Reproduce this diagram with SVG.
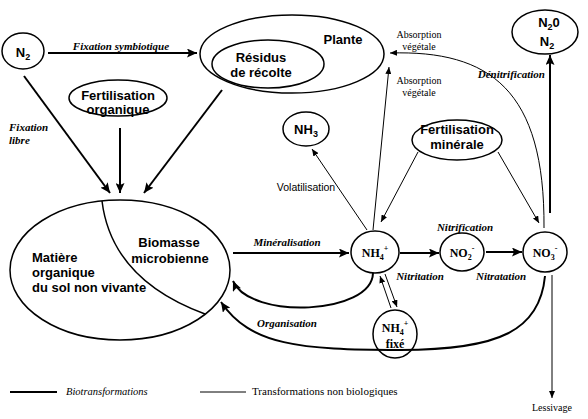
<svg xmlns="http://www.w3.org/2000/svg" width="588" height="419" viewBox="0 0 588 419">
<defs>
<marker id="ah" markerUnits="userSpaceOnUse" markerWidth="11" markerHeight="9" refX="10" refY="4.5" orient="auto-start-reverse"><path d="M0,0 L10,4.5 L0,9 L2,4.5 z" fill="#000"/></marker>
<marker id="as" markerUnits="userSpaceOnUse" markerWidth="8" markerHeight="6" refX="7" refY="3" orient="auto-start-reverse"><path d="M0,0 L7,3 L0,6 z" fill="#000"/></marker>
</defs>
<style>
.n{fill:none;stroke:#000;stroke-width:1.5}
.b{font-family:"Liberation Sans",Arial,sans-serif;font-weight:bold;font-size:13px;text-anchor:middle}
.bs{font-family:"Liberation Serif","Times New Roman",serif;font-weight:bold;font-size:12px;text-anchor:middle}
.bi{font-family:"Liberation Serif","Times New Roman",serif;font-weight:bold;font-style:italic;font-size:11px;text-anchor:middle}
.r{font-family:"Liberation Serif","Times New Roman",serif;font-size:10px;text-anchor:middle}
.th{fill:none;stroke:#000;stroke-width:2;marker-end:url(#ah)}
.tn{fill:none;stroke:#000;stroke-width:1;marker-end:url(#as)}
</style>
<rect width="588" height="419" fill="#fff"/>
<g id="n2"><ellipse class="n" cx="23" cy="51" rx="21" ry="18"/><text class="b" x="23" y="57">N<tspan font-size="9" dy="3">2</tspan></text></g>
<g id="plante"><ellipse class="n" cx="292" cy="54" rx="92" ry="39"/><text class="b" x="343" y="44">Plante</text></g>
<g id="residus"><ellipse class="n" cx="268" cy="64" rx="56" ry="24"/><text class="b" x="261" y="62">Résidus</text><text class="b" x="261" y="77">de récolte</text></g>
<g id="fert-org"><ellipse class="n" cx="118" cy="98" rx="49" ry="18"/><text class="b" x="118" y="100">Fertilisation</text><text class="b" x="118" y="114">organique</text></g>
<g id="sol"><ellipse class="n" cx="120" cy="270" rx="110" ry="70"/><path class="n" d="M102,201 C108,250 140,290 205,314"/>
<text class="b" x="32" y="262" style="text-anchor:start">Matière</text><text class="b" x="32" y="277" style="text-anchor:start">organique</text><text class="b" x="32" y="292" style="text-anchor:start">du sol non vivante</text>
<text class="b" x="169" y="247">Biomasse</text><text class="b" x="170" y="263">microbienne</text></g>
<g id="nh3"><ellipse class="n" cx="306" cy="129" rx="23" ry="17"/><text class="b" x="306" y="134">NH<tspan font-size="9" dy="3">3</tspan></text></g>
<g id="fert-min"><ellipse class="n" cx="457" cy="140" rx="45" ry="20"/><text class="b" x="457" y="134">Fertilisation</text><text class="b" x="457" y="149">minérale</text></g>
<g id="n2o"><ellipse class="n" cx="545" cy="32" rx="33" ry="22"/><text class="b" x="549" y="27">N<tspan font-size="9" dy="3">2</tspan><tspan dy="-3">0</tspan></text><text class="b" x="547" y="46">N<tspan font-size="9" dy="3">2</tspan></text></g>
<g id="nh4"><ellipse class="n" cx="375" cy="252" rx="24" ry="21"/><text class="bs" x="375" y="257">NH<tspan font-size="8" dy="3">4</tspan><tspan font-size="8" dy="-9">+</tspan></text></g>
<g id="no2"><ellipse class="n" cx="462" cy="252" rx="22" ry="19"/><text class="bs" x="462" y="257">NO<tspan font-size="8" dy="3">2</tspan><tspan font-size="8" dy="-9">-</tspan></text></g>
<g id="no3"><ellipse class="n" cx="545" cy="252" rx="22" ry="20"/><text class="bs" x="545" y="257">NO<tspan font-size="8" dy="3">3</tspan><tspan font-size="8" dy="-9">-</tspan></text></g>
<g id="nh4fixe"><ellipse class="n" cx="395" cy="334" rx="22" ry="24"/><text class="bs" x="395" y="332">NH<tspan font-size="8" dy="3">4</tspan><tspan font-size="8" dy="-9">+</tspan></text><text class="bs" x="395" y="348">fixé</text></g>
<g id="connectors">
<line class="th" x1="48" y1="53" x2="197" y2="53"/>
<line class="th" x1="24" y1="76" x2="110" y2="193"/>
<line class="th" x1="120" y1="128" x2="120" y2="193"/>
<line class="th" x1="222" y1="90" x2="144" y2="193"/>
<line class="th" x1="233" y1="253" x2="349" y2="253"/>
<line class="th" x1="400" y1="253" x2="439" y2="253"/>
<line class="th" x1="486" y1="252" x2="522" y2="252"/>
<line class="th" x1="550" y1="213" x2="550" y2="55"/>
<path class="tn" d="M544,228 C545,90 490,50 390,53"/>
<line class="tn" x1="373" y1="230" x2="389" y2="67"/>
<line class="tn" x1="367" y1="230" x2="312" y2="149"/>
<line class="tn" x1="418" y1="152" x2="381" y2="222"/>
<line class="tn" x1="498" y1="152" x2="539" y2="223"/>
<path class="th" d="M373,273 C372,315 250,320 233,281"/>
<path class="th" d="M545,276 C540,330 500,350 400,350 C300,350 250,345 221,302"/>
<line class="tn" x1="391" y1="308" x2="380" y2="276"/>
<line class="tn" x1="385" y1="274" x2="397" y2="307"/>
<line class="tn" x1="552" y1="275" x2="552" y2="398"/>
<line stroke="#000" stroke-width="2" x1="10" y1="392" x2="57" y2="392"/>
<line stroke="#000" stroke-width="1" x1="200" y1="392" x2="246" y2="392"/>
</g>
<g id="labels">
<text class="bi" x="121" y="50">Fixation symbiotique</text>
<text class="bi" x="9" y="131" style="text-anchor:start">Fixation</text>
<text class="bi" x="9" y="144" style="text-anchor:start">libre</text>
<text class="bi" x="287" y="246">Minéralisation</text>
<text class="bi" x="545" y="78" style="text-anchor:end">Dénitrification</text>
<text class="bi" x="465" y="231">Nitrification</text>
<text class="bi" x="420" y="280">Nitritation</text>
<text class="bi" x="501" y="280">Nitratation</text>
<text class="bi" x="287" y="327">Organisation</text>
<text class="r" x="419" y="38">Absorption</text>
<text class="r" x="419" y="50">végétale</text>
<text class="r" x="419" y="84">Absorption</text>
<text class="r" x="419" y="96">végétale</text>
<text x="306" y="191" style="font-family:'Liberation Sans',Arial,sans-serif;font-size:10.5px;text-anchor:middle">Volatilisation</text>
<text class="r" x="552" y="411">Lessivage</text>
<text x="66" y="395" style="font-family:'Liberation Serif','Times New Roman',serif;font-style:italic;font-size:10.5px">Biotransformations</text>
<text x="252" y="395" style="font-family:'Liberation Serif','Times New Roman',serif;font-size:11px">Transformations non biologiques</text>
</g>
</svg>
